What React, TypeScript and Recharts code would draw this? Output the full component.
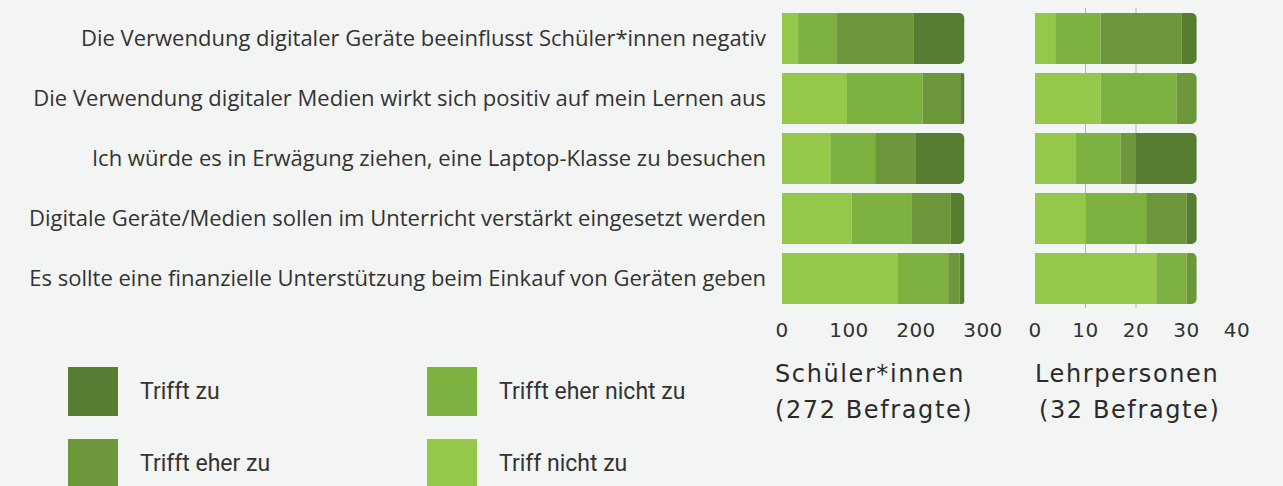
import React from "react"
import { BarChart, Bar, XAxis, YAxis, CartesianGrid, Cell } from "recharts"

const categories = [
  "Die Verwendung digitaler Geräte beeinflusst Schüler*innen negativ",
  "Die Verwendung digitaler Medien wirkt sich positiv auf mein Lernen aus",
  "Ich würde es in Erwägung ziehen, eine Laptop-Klasse zu besuchen",
  "Digitale Geräte/Medien sollen im Unterricht verstärkt eingesetzt werden",
  "Es sollte eine finanzielle Unterstützung beim Einkauf von Geräten geben",
]

// Schüler*innen (272 Befragte)
const schuelerNicht = [24, 97, 72, 104, 172]
const schuelerEherNicht = [57, 113, 67, 89, 76]
const schuelerEherZu = [115, 56, 61, 59, 17]
const schuelerZu = [76, 6, 72, 20, 7]

// Lehrpersonen (32 Befragte)
const lehrerNicht = [4, 13, 8, 10, 24]
const lehrerEherNicht = [9, 15, 9, 12, 6]
const lehrerEherZu = [16, 4, 3, 8, 2]
const lehrerZu = [3, 0, 12, 2, 0]

const schuelerTicks = [0, 100, 200, 300]
const lehrerTicks = [0, 10, 20, 30, 40]

const series = [
  { key: "nicht", name: "Triff nicht zu", color: "#95c84a" },
  { key: "eherNicht", name: "Trifft eher nicht zu", color: "#7db241" },
  { key: "eherZu", name: "Trifft eher zu", color: "#6c973a" },
  { key: "zu", name: "Trifft zu", color: "#577d33" },
]

// legend: left column then right column
const legendOrder = ["zu", "eherZu", "eherNicht", "nicht"]

const schuelerData = categories.map((label, i) => ({
  label,
  nicht: schuelerNicht[i],
  eherNicht: schuelerEherNicht[i],
  eherZu: schuelerEherZu[i],
  zu: schuelerZu[i],
}))

const lehrerData = categories.map((label, i) => ({
  label,
  nicht: lehrerNicht[i],
  eherNicht: lehrerEherNicht[i],
  eherZu: lehrerEherZu[i],
  zu: lehrerZu[i],
}))

// rounded right end only on the last non-zero segment of each row
function lastKey(row) {
  let last = "nicht"
  series.forEach((s) => {
    if (row[s.key] > 0) last = s.key
  })
  return last
}

function renderBars(data) {
  return series.map((s) => (
    <Bar
      key={s.key}
      dataKey={s.key}
      name={s.name}
      stackId="a"
      fill={s.color}
      barSize={51}
      isAnimationActive={false}
    >
      {data.map((row, i) => (
        <Cell
          key={i}
          fill={s.color}
          radius={lastKey(row) === s.key ? [0, 5, 5, 0] : 0}
        />
      ))}
    </Bar>
  ))
}

const tickStyle = {
  fontSize: 20,
  fill: "#333",
  fontFamily: "DejaVu Sans",
  letterSpacing: 0.5,
}

const titleStyle: React.CSSProperties = {
  position: "absolute",
  top: 356,
  fontFamily: "DejaVu Sans",
  fontSize: 24,
  lineHeight: "36px",
  letterSpacing: 1.6,
  color: "#2b2b2b",
  whiteSpace: "nowrap",
}

export default function App() {
  return (
    <div
      style={{
        position: "fixed",
        left: 0,
        top: 0,
        width: 1283,
        height: 486,
        background: "#f3f4f4",
        overflow: "hidden",
      }}
    >
      <div style={{ position: "absolute", left: 0, top: 0 }}>
        <BarChart
          width={1012}
          height={345}
          data={schuelerData}
          layout="vertical"
          margin={{ top: 8, right: 29, left: 0, bottom: 0 }}
        >
          <XAxis
            type="number"
            domain={[0, 300]}
            ticks={schuelerTicks}
            axisLine={false}
            tickLine={false}
            tickSize={0}
            tickMargin={15}
            height={37}
            tick={tickStyle}
          />
          <YAxis
            type="category"
            dataKey="label"
            width={782}
            axisLine={false}
            tickLine={false}
            tickSize={0}
            tickMargin={16}
            tick={{ fontSize: 22, fill: "#333", fontFamily: "Open Sans" }}
          />
          {renderBars(schuelerData)}
        </BarChart>
      </div>

      <div style={{ position: "absolute", left: 1010, top: 0 }}>
        <BarChart
          width={260}
          height={345}
          data={lehrerData}
          layout="vertical"
          margin={{ top: 8, right: 33, left: 25, bottom: 0 }}
        >
          <CartesianGrid
            horizontal={false}
            verticalValues={[10, 20]}
            stroke="#b5b5b5"
          />
          <XAxis
            type="number"
            domain={[0, 40]}
            ticks={lehrerTicks}
            axisLine={false}
            tickLine={false}
            tickSize={0}
            tickMargin={15}
            height={37}
            tick={tickStyle}
          />
          <YAxis type="category" dataKey="label" hide width={0} />
          {renderBars(lehrerData)}
        </BarChart>
      </div>

      <div style={{ ...titleStyle, left: 775 }}>
        Schüler*innen
        <br />
        (272 Befragte)
      </div>
      <div style={{ ...titleStyle, left: 1035 }}>
        Lehrpersonen
        <br />
        <span style={{ marginLeft: 4 }}>(32 Befragte)</span>
      </div>

      {legendOrder.map((k, i) => {
        const s = series.find((x) => x.key === k)
        const col = Math.floor(i / 2)
        const row = i % 2
        return (
          <div
            key={k}
            style={{
              position: "absolute",
              left: col === 0 ? 68 : 427,
              top: row === 0 ? 367 : 439,
              display: "flex",
              alignItems: "center",
            }}
          >
            <div style={{ width: 50, height: 49, background: s.color }} />
            <div
              style={{
                marginLeft: 22,
                fontFamily: "Roboto",
                fontSize: 23,
                color: "#333",
                whiteSpace: "nowrap",
              }}
            >
              {s.name}
            </div>
          </div>
        )
      })}
    </div>
  )
}
